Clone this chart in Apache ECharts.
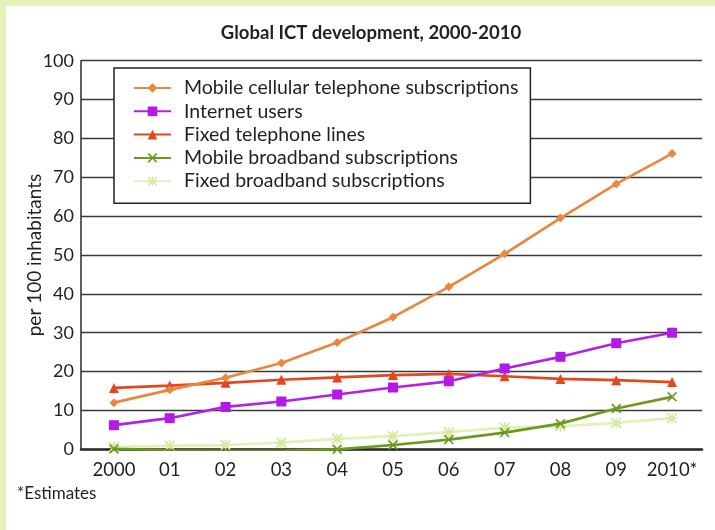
<!DOCTYPE html>
<html>
<head>
<meta charset="utf-8">
<script src="https://cdn.jsdelivr.net/npm/echarts@6/dist/echarts.min.js"></script>
<style>
html,body{margin:0;padding:0;background:#fff;}
#chart{width:715px;height:530px;}
</style>
</head>
<body>
<div id="chart"></div>
<script>
const years = ['2000','01','02','03','04','05','06','07','08','09','2010*'];
const mobileCellular = [12.0, 15.3, 18.4, 22.2, 27.5, 34.0, 41.8, 50.3, 59.5, 68.3, 76.1];
const internetUsers = [6.2, 8.0, 10.9, 12.3, 14.1, 15.9, 17.5, 20.8, 23.8, 27.3, 30.0];
const fixedTelephone = [15.8, 16.4, 17.1, 17.9, 18.5, 19.1, 19.4, 18.8, 18.1, 17.8, 17.3];
const mobileBroadband = [0.1, -0.3, -0.4, -0.4, 0.0, 1.1, 2.5, 4.3, 6.6, 10.5, 13.5];
const fixedBroadband = [0.6, 0.9, 1.1, 1.7, 2.7, 3.4, 4.4, 5.6, 5.9, 6.8, 8.0];
const yTicks = {min: 0, max: 100, interval: 10};

const FONT = 'Lato';
const TXT = '#231f20';
const xPath = 'path://M0,1.2 L1.2,0 L5,3.8 L8.8,0 L10,1.2 L6.2,5 L10,8.8 L8.8,10 L5,6.2 L1.2,10 L0,8.8 L3.8,5 Z';
const starPath = 'path://M0,1.2 L1.2,0 L10,8.8 L8.8,10 Z M8.8,0 L10,1.2 L1.2,10 L0,8.8 Z M4.4,0 L5.6,0 L5.6,10 L4.4,10 Z M0,4.4 L10,4.4 L10,5.6 L0,5.6 Z';

function mk(name, data, color, symbol, size, symColor, z) {
  return {
    name: name, type: 'line', data: data, xAxisIndex: 0, yAxisIndex: 0,
    symbol: symbol, symbolSize: size, showSymbol: true,
    lineStyle: {color: color, width: 2.7},
    itemStyle: {color: symColor || color, borderWidth: 0},
    z: z, animation: false
  };
}

const chart = echarts.init(document.getElementById('chart'));
chart.setOption({
  animation: false,
  backgroundColor: '#ffffff',
  textStyle: {fontFamily: FONT, color: TXT},
  graphic: [
    {type: 'rect', left: 0, top: 0, shape: {width: 715, height: 6}, style: {fill: '#e3f3b9'}, silent: true},
    {type: 'rect', left: 0, top: 0, shape: {width: 6, height: 530}, style: {fill: '#e3f3b9'}, silent: true},
    {type: 'text', left: 17, top: 485, style: {text: '*Estimates', font: '17px Lato', fill: TXT}}
  ],
  title: {
    text: 'Global ICT development, 2000-2010',
    left: 366, top: 19, textAlign: 'center',
    textStyle: {fontFamily: FONT, fontSize: 18.5, fontWeight: 'bold', color: TXT}
  },
  legend: {
    orient: 'vertical', left: 114, top: 68,
    padding: [10, 12, 12, 19],
    itemGap: 3.3, itemWidth: 37, itemHeight: 12,
    backgroundColor: '#fff', borderColor: '#222', borderWidth: 1.5,
    textStyle: {fontFamily: FONT, fontSize: 19.5, color: TXT, lineHeight: 20, padding: [0, 0, 0, 8]},
    data: ['Mobile cellular telephone subscriptions', 'Internet users', 'Fixed telephone lines', 'Mobile broadband subscriptions', 'Fixed broadband subscriptions']
  },
  grid: [
    {left: 86, right: 15, top: 60.7, bottom: 80.7},
    {left: 81, right: 13, top: 60.7, bottom: 80.7}
  ],
  xAxis: [
    {type: 'category', gridIndex: 0, data: years, boundaryGap: true,
     axisLine: {show: false}, axisTick: {show: false}, splitLine: {show: false},
     axisLabel: {fontFamily: FONT, fontSize: 18.5, color: TXT, margin: 11, interval: 0}},
    {type: 'value', gridIndex: 1, min: 0, max: 1, position: 'bottom',
     axisLine: {show: true, onZero: false, lineStyle: {color: '#2a2a2a', width: 2.5}},
     axisTick: {show: false}, axisLabel: {show: false}, splitLine: {show: false}}
  ],
  yAxis: [
    {type: 'value', gridIndex: 0, min: yTicks.min, max: yTicks.max, interval: yTicks.interval,
     show: false, splitLine: {show: false}},
    {type: 'value', gridIndex: 1, min: yTicks.min, max: yTicks.max, interval: yTicks.interval,
     name: 'per 100 inhabitants', nameLocation: 'middle', nameGap: 37, nameRotate: 90,
     nameMoveOverlap: false,
     nameTextStyle: {fontFamily: FONT, fontSize: 19, color: TXT},
     axisLine: {show: true, lineStyle: {color: '#2a2a2a', width: 1.5}},
     axisTick: {show: false},
     axisLabel: {fontFamily: FONT, fontSize: 18, color: TXT, margin: 7},
     splitLine: {show: true, lineStyle: {color: '#3a3a3a', width: 1.4}}}
  ],
  series: [
    mk('Fixed broadband subscriptions', fixedBroadband, '#e2f1b9', starPath, 11, '#d3e9a0', 3),
    mk('Mobile broadband subscriptions', mobileBroadband, '#6b9a1e', xPath, 10, '#6b9a1e', 4),
    mk('Fixed telephone lines', fixedTelephone, '#e4461e', 'triangle', 10, '#e4461e', 5),
    mk('Internet users', internetUsers, '#b321e6', 'rect', 10, '#b31ae8', 6),
    mk('Mobile cellular telephone subscriptions', mobileCellular, '#e8883f', 'diamond', 9, '#e8883f', 7)
  ]
});
</script>
</body>
</html>
